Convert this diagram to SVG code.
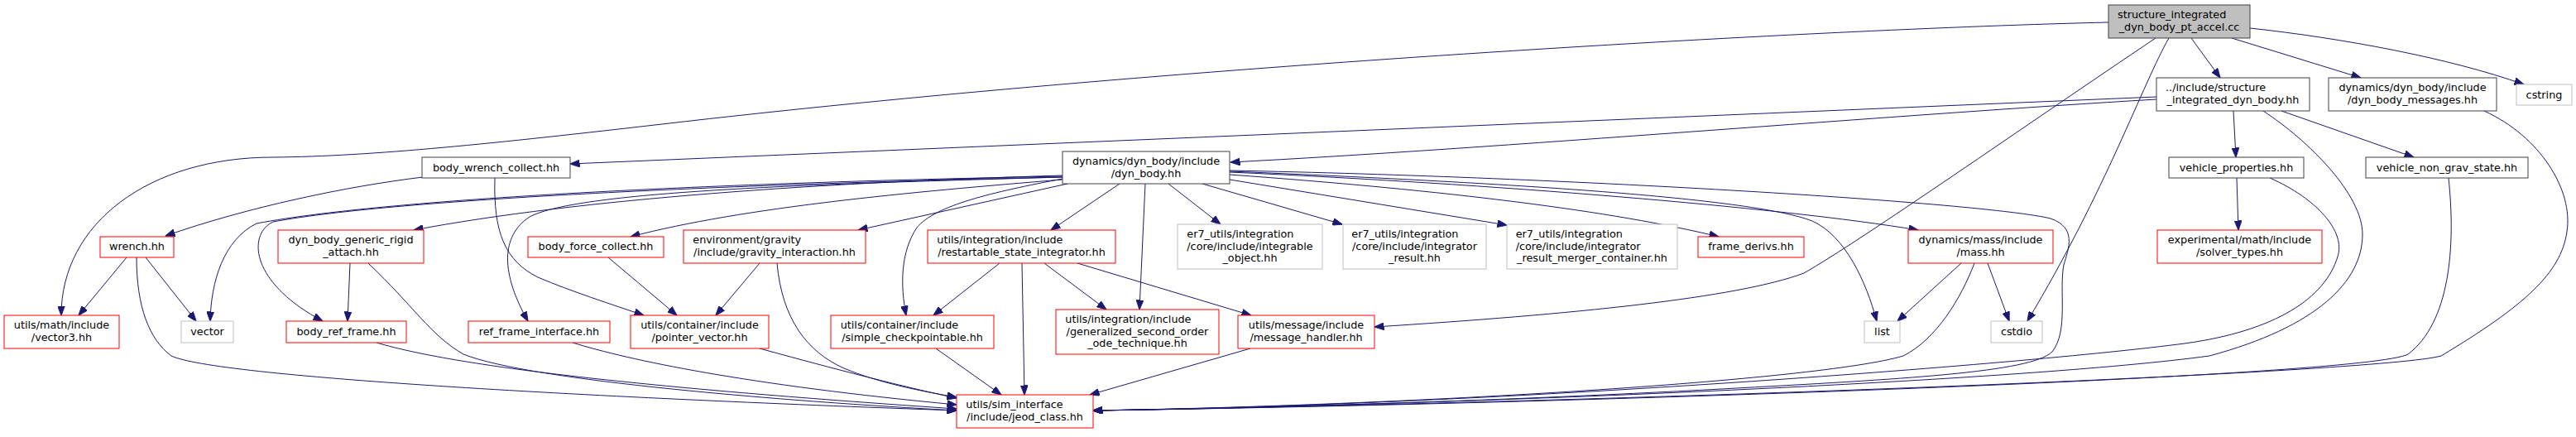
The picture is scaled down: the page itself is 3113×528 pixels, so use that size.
<svg xmlns="http://www.w3.org/2000/svg" width="3113" height="528" viewBox="0 0 3113 528">
<style>
text{font-family:"DejaVu Sans","Liberation Sans",sans-serif;font-size:12.8px;fill:#000}
.m{text-anchor:middle}
.s{text-anchor:start}
rect{fill:#fff;stroke-width:1}
.k rect{stroke:#404040}
.r rect{stroke:#ff0000}
.g rect{stroke:#bfbfbf}
.root rect{fill:#bfbfbf;stroke:#404040}
#edges path{fill:none;stroke:#191970;stroke-width:1;marker-end:url(#ah)}
</style>
<defs>
<marker id="ah" viewBox="0 0 12 9" refX="11.5" refY="4.5" markerWidth="12" markerHeight="9" orient="auto" markerUnits="userSpaceOnUse">
<path d="M0,0 L12,4.5 L0,9 z" fill="#191970" stroke="#191970" stroke-width="0.8"/>
</marker>
</defs>
<rect x="0" y="0" width="3113" height="528" fill="#fff" stroke="none"/>
<g id="edges">
<path d="M2648,46 L2683,94"/>
<path d="M2697,46 L2853,94"/>
<path d="M2719,34 C2830,46 2960,70 3050,102"/>
<path d="M2548,27 C2200,35 1400,80 800,150 C600,173 450,189 330,190 C180,190 74,270 74,381"/>
<path d="M2621,46 C2590,100 2545,230 2450,388"/>
<path d="M2605,46 C2450,150 2250,290 2180,330 C2100,360 1900,380 1661,395"/>
<path d="M2606,120 C2300,138 1800,180 1487,196"/>
<path d="M2606,117 L689,198"/>
<path d="M2699,134 L2702,190"/>
<path d="M2757,134 L2917,190"/>
<path d="M2735,134 C2790,170 2855,235 2855,283 C2855,340 2800,395 2670,430 C2450,460 1800,488 1321,496"/>
<path d="M2743,215 C2800,240 2835,280 2825,310 C2810,360 2750,400 2640,415 C2450,440 1800,490 1321,496"/>
<path d="M2959,215 C2968,300 2960,390 2910,428 C2860,455 1900,488 1321,496"/>
<path d="M3002,134 C3070,165 3110,230 3102,280 C3095,330 3050,370 2950,430 C2880,450 2000,485 1321,496"/>
<path d="M1486,206 C1900,214 2400,245 2478,264 C2510,275 2500,300 2494,320 C2488,350 2500,400 2480,425 C2455,450 2300,458 2080,470 C1800,485 1500,494 1321,496"/>
<path d="M2386,318 C2370,360 2340,410 2300,430 C2200,460 1700,490 1321,496"/>
<path d="M1412,222 L1475,271"/>
<path d="M1453,222 L1622,271"/>
<path d="M1486,217 L1821,272"/>
<path d="M1486,211 C1750,230 1950,255 2077,286"/>
<path d="M1486,208 C1800,222 2150,250 2318,278"/>
<path d="M1486,207 C1850,222 2120,240 2190,267 C2230,285 2255,340 2268,388"/>
<path d="M2370,318 L2293,388"/>
<path d="M2402,318 L2428,388"/>
<path d="M2703,215 L2705,278"/>
<path d="M1353,222 L1270,278"/>
<path d="M1384,222 L1377,374"/>
<path d="M1208,318 L1128,381"/>
<path d="M1235,318 L1238,477"/>
<path d="M1262,318 L1337,374"/>
<path d="M1302,318 L1512,381"/>
<path d="M1131,421 L1210,477"/>
<path d="M1511,421 L1317,477"/>
<path d="M1284,216 C1200,232 1130,248 1108,275 C1088,305 1088,345 1095,381"/>
<path d="M1290,222 L1037,278"/>
<path d="M1284,217 C1100,232 900,250 762,286"/>
<path d="M1284,212 C1000,220 700,240 500,278"/>
<path d="M1284,214 C1000,222 700,230 640,262 C605,285 605,330 638,388"/>
<path d="M1284,214 C900,222 480,240 330,268 C300,282 300,340 390,388"/>
<path d="M1284,213 C900,220 480,238 310,270 C270,290 255,340 254,388"/>
<path d="M511,214 C420,225 300,250 200,285"/>
<path d="M598,215 C596,280 610,315 650,335 C690,352 740,368 778,381"/>
<path d="M735,311 L818,381"/>
<path d="M918,318 L865,381"/>
<path d="M939,318 C945,385 975,425 1020,445 C1060,462 1110,472 1156,480"/>
<path d="M918,421 C980,438 1080,465 1156,481"/>
<path d="M692,414 C760,435 900,465 1156,489"/>
<path d="M455,414 C560,445 800,470 1156,494"/>
<path d="M445,318 C500,370 520,405 560,428 C640,460 950,485 1156,496"/>
<path d="M165,311 C165,370 180,410 207,430 C260,455 700,480 1156,496"/>
<path d="M153,311 L95,381"/>
<path d="M176,311 L237,388"/>
<path d="M423,318 L420,388"/>
</g>
<g id="n_root" class="root"><rect x="2548" y="6" width="171" height="40"/><text class="s" x="2559" y="22">structure_integrated</text><text class="m" x="2633.5" y="37">_dyn_body_pt_accel.cc</text></g>
<g id="n_inc" class="k"><rect x="2606" y="94" width="185" height="40"/><text class="s" x="2617" y="110">../include/structure</text><text class="m" x="2698.5" y="125">_integrated_dyn_body.hh</text></g>
<g id="n_msgs" class="k"><rect x="2814" y="94" width="203" height="40"/><text class="m" x="2915.5" y="110">dynamics/dyn_body/include</text><text class="m" x="2915.5" y="125">/dyn_body_messages.hh</text></g>
<g id="n_cstring" class="g"><rect x="3041" y="102" width="67" height="25"/><text class="m" x="3074.5" y="118.5">cstring</text></g>
<g id="n_vprop" class="k"><rect x="2621" y="190" width="163" height="25"/><text class="m" x="2702.5" y="206.5">vehicle_properties.hh</text></g>
<g id="n_vngs" class="k"><rect x="2859" y="190" width="196" height="25"/><text class="m" x="2957" y="206.5">vehicle_non_grav_state.hh</text></g>
<g id="n_solver" class="r"><rect x="2607" y="278" width="199" height="40"/><text class="m" x="2706.5" y="293.5">experimental/math/include</text><text class="m" x="2706.5" y="308.5">/solver_types.hh</text></g>
<g id="n_mass" class="r"><rect x="2306" y="278" width="175" height="40"/><text class="m" x="2393.5" y="293.5">dynamics/mass/include</text><text class="m" x="2393.5" y="308.5">/mass.hh</text></g>
<g id="n_list" class="g"><rect x="2253" y="388" width="43" height="26"/><text class="m" x="2274.5" y="405">list</text></g>
<g id="n_cstdio" class="g"><rect x="2406" y="388" width="62" height="26"/><text class="m" x="2437" y="405">cstdio</text></g>
<g id="n_fderivs" class="r"><rect x="2052" y="286" width="128" height="25"/><text class="m" x="2116" y="302">frame_derivs.hh</text></g>
<g id="n_merger" class="g"><rect x="1821" y="271" width="206" height="54"/><text class="s" x="1831.7" y="287">er7_utils/integration</text><text class="s" x="1831.7" y="301.5">/core/include/integrator</text><text class="m" x="1924" y="316">_result_merger_container.hh</text></g>
<g id="n_result" class="g"><rect x="1623" y="271" width="173" height="54"/><text class="s" x="1633.3" y="287">er7_utils/integration</text><text class="m" x="1709.5" y="301.5">/core/include/integrator</text><text class="m" x="1709.5" y="316">_result.hh</text></g>
<g id="n_integrable" class="g"><rect x="1423" y="271" width="175" height="54"/><text class="s" x="1434.3" y="287">er7_utils/integration</text><text class="m" x="1510.5" y="301.5">/core/include/integrable</text><text class="m" x="1510.5" y="316">_object.hh</text></g>
<g id="n_dynbody" class="k"><rect x="1284" y="183" width="202" height="39"/><text class="m" x="1385" y="199">dynamics/dyn_body/include</text><text class="m" x="1385" y="213.5">/dyn_body.hh</text></g>
<g id="n_restart" class="r"><rect x="1121" y="278" width="227" height="40"/><text class="s" x="1132.3" y="293.5">utils/integration/include</text><text class="m" x="1234.5" y="308.5">/restartable_state_integrator.hh</text></g>
<g id="n_general" class="r"><rect x="1276" y="374" width="197" height="54"/><text class="s" x="1287.3" y="390">utils/integration/include</text><text class="m" x="1374.5" y="404.5">/generalized_second_order</text><text class="m" x="1374.5" y="419">_ode_technique.hh</text></g>
<g id="n_msghandler" class="r"><rect x="1496" y="381" width="165" height="40"/><text class="m" x="1578.5" y="396.5">utils/message/include</text><text class="m" x="1578.5" y="411.5">/message_handler.hh</text></g>
<g id="n_jeod" class="r"><rect x="1156" y="477" width="165" height="40"/><text class="s" x="1167.3" y="493">utils/sim_interface</text><text class="m" x="1238.5" y="508">/include/jeod_class.hh</text></g>
<g id="n_simpleckpt" class="r"><rect x="1004" y="381" width="197" height="40"/><text class="s" x="1015.7" y="396.5">utils/container/include</text><text class="m" x="1102.5" y="411.5">/simple_checkpointable.hh</text></g>
<g id="n_ptrvec" class="r"><rect x="762" y="381" width="167" height="40"/><text class="m" x="845.5" y="396.5">utils/container/include</text><text class="m" x="845.5" y="411.5">/pointer_vector.hh</text></g>
<g id="n_gravity" class="r"><rect x="826" y="278" width="220" height="40"/><text class="s" x="837.3" y="293.5">environment/gravity</text><text class="m" x="936" y="308.5">/include/gravity_interaction.hh</text></g>
<g id="n_bforce" class="r"><rect x="638" y="286" width="164" height="25"/><text class="m" x="720" y="302">body_force_collect.hh</text></g>
<g id="n_rfi" class="r"><rect x="566" y="388" width="171" height="26"/><text class="m" x="651.5" y="405">ref_frame_interface.hh</text></g>
<g id="n_bwrench" class="k"><rect x="510" y="190" width="179" height="25"/><text class="m" x="599.5" y="206.5">body_wrench_collect.hh</text></g>
<g id="n_rigid" class="r"><rect x="336" y="278" width="176" height="40"/><text class="m" x="424" y="293.5">dyn_body_generic_rigid</text><text class="m" x="424" y="308.5">_attach.hh</text></g>
<g id="n_brf" class="r"><rect x="346" y="388" width="145" height="26"/><text class="m" x="418.5" y="405">body_ref_frame.hh</text></g>
<g id="n_wrench" class="r"><rect x="121" y="286" width="89" height="25"/><text class="m" x="165.5" y="302">wrench.hh</text></g>
<g id="n_vector" class="g"><rect x="219" y="388" width="63" height="26"/><text class="m" x="250.5" y="405">vector</text></g>
<g id="n_vector3" class="r"><rect x="5" y="381" width="139" height="40"/><text class="m" x="74.5" y="396.5">utils/math/include</text><text class="m" x="74.5" y="411.5">/vector3.hh</text></g>
</svg>
